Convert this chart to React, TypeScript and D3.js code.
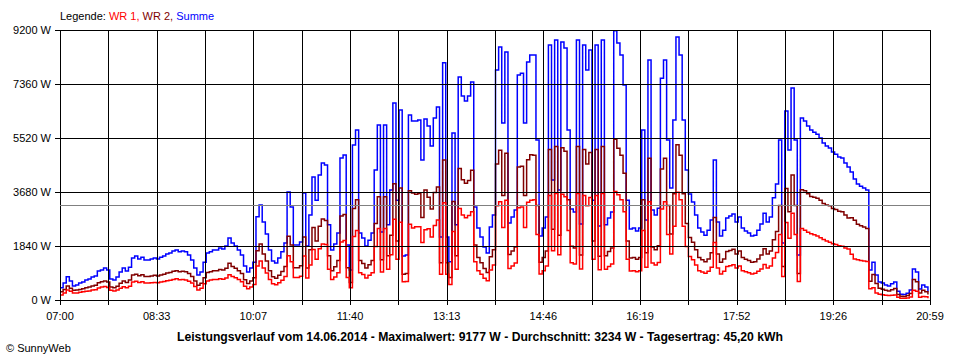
import React from 'react';
import * as d3 from 'd3';

// samples every 3 minutes starting 07:00
const startMinute = 420;
const endMinute = 1259;
const stepMinutes = 3;

const xTickLabels = ["07:00", "08:33", "10:07", "11:40", "13:13", "14:46", "16:19", "17:52", "19:26", "20:59"];
const yTicks = [0, 1840, 3680, 5520, 7360, 9200];
const average = 3234;

const summe = [
  420, 580, 790, 650, 480, 510, 580, 610, 680, 715,
  780, 820, 990, 1020, 1090, 1020, 715, 680, 780, 950,
  1090, 990, 1120, 1430, 1500, 1400, 1460, 1360, 1360, 1400,
  1430, 1400, 1460, 1500, 1570, 1600, 1670, 1700, 1640, 1670,
  1640, 1530, 1360, 1090, 850, 950, 1290, 1600, 1640, 1700,
  1700, 1770, 1740, 1840, 2110, 1940, 1840, 1700, 1530, 1160,
  950, 1090, 1290, 2840, 3240, 2660, 2250, 1700, 1330, 1260,
  1430, 1640, 1940, 3680, 3170, 1870, 1870, 1980, 3650, 1840,
  2900, 4190, 3400, 4260, 4670, 4600, 2560, 1700, 1910, 2280,
  4840, 4940, 1870, 1020, 5280, 5790, 2280, 2110, 1840, 2040,
  2280, 4430, 5960, 2320, 5960, 2560, 3750, 6710, 3400, 6470,
  1500, 1530, 6300, 6100, 6100, 6130, 4770, 6170, 5930, 5250,
  6200, 6580, 2150, 8080, 2150, 1300, 5690, 2560, 7600, 6950,
  6780, 6950, 7430, 3170, 2450, 2150, 1810, 1600, 2490, 2900,
  7840, 8620, 6030, 8450, 2620, 2830, 3070, 7670, 7730, 6030,
  8110, 8350, 8350, 5450, 2180, 2450, 2830, 8690, 4090, 8860,
  3750, 8790, 8590, 5790, 3100, 3000, 8860, 2590, 8690, 7840,
  8520, 3400, 8690, 2520, 8860, 2560, 2790, 3000, 9177, 8760,
  8350, 7330, 3400, 2420, 2450, 2350, 2450, 5790, 2730, 8180,
  3070, 2900, 3130, 7560, 8180, 5450, 3820, 6130, 8960, 8350,
  6130, 4430, 3610, 3340, 2900, 2450, 2320, 2210, 2380, 2730,
  4770, 2660, 2180, 2380, 2790, 2860, 2930, 2660, 2830, 2450,
  2350, 2280, 2180, 2210, 2380, 2590, 2960, 2660, 2830, 3480,
  3950, 5450, 1940, 6440, 5110, 7220, 5450, 1530, 6200, 6100,
  5930, 5790, 5720, 5650, 5520, 5350, 5250, 5180, 5040, 4970,
  4870, 4840, 4670, 4530, 4360, 4120, 3950, 3880, 3820, 3750,
  1020, 1290, 850, 610, 580, 510, 480, 550, 610, 300,
  200, 190, 230, 340, 1060, 950, 375, 510, 440, 280,
];

const wr1 = [
  170, 240, 340, 300, 240, 240, 260, 280, 300, 310,
  340, 350, 410, 440, 460, 430, 330, 310, 340, 400,
  450, 420, 470, 610, 640, 600, 620, 580, 580, 590,
  600, 590, 610, 630, 660, 670, 700, 720, 690, 700,
  680, 640, 580, 460, 340, 400, 550, 650, 680, 700,
  700, 720, 710, 750, 860, 800, 760, 700, 620, 470,
  380, 440, 530, 1160, 1330, 1090, 920, 700, 550, 520,
  590, 670, 800, 1510, 1300, 770, 770, 810, 1500, 750,
  1190, 1720, 1390, 1750, 1910, 1890, 1050, 700, 780, 930,
  1980, 2030, 770, 420, 2160, 2370, 930, 870, 750, 840,
  930, 1820, 2440, 950, 2440, 1050, 1540, 2750, 1390, 2650,
  620, 630, 2580, 2450, 2500, 2500, 1960, 2390, 2430, 2150,
  2540, 2730, 880, 3310, 880, 530, 2330, 1050, 3120, 2900,
  2800, 2880, 3010, 1300, 1000, 880, 740, 660, 1020, 1190,
  3210, 3350, 2470, 3400, 1070, 1160, 1260, 3140, 3170, 2470,
  3330, 3400, 3420, 2230, 890, 1000, 1160, 3560, 1680, 3630,
  1540, 3600, 3520, 2370, 1270, 1230, 3630, 1060, 3560, 3210,
  3490, 1390, 3560, 1030, 3630, 1050, 1140, 1230, 3700, 3590,
  3420, 3010, 1390, 990, 1000, 960, 1000, 2370, 1120, 3350,
  1260, 1190, 1280, 3100, 3350, 2230, 1570, 2510, 3670, 3420,
  2510, 1820, 1480, 1370, 1190, 1000, 950, 910, 980, 1120,
  1960, 1090, 890, 980, 1140, 1170, 1200, 1090, 1160, 1000,
  960, 930, 890, 910, 980, 1060, 1210, 1090, 1160, 1430,
  1620, 2230, 800, 2640, 2100, 2960, 2230, 630, 2440, 2380,
  2310, 2260, 2220, 2180, 2120, 2060, 2010, 1970, 1920, 1890,
  1850, 1830, 1770, 1740, 1560, 1400, 1370, 1350, 1330, 1310,
  380, 420, 240, 200, 180, 160, 150, 160, 170, 90,
  60, 60, 70, 100, 330, 300, 90, 120, 110, 60,
];

const wr2 = [
  280, 360, 480, 400, 330, 340, 360, 380, 420, 440,
  480, 500, 590, 620, 650, 610, 440, 420, 470, 570,
  650, 600, 680, 850, 880, 830, 860, 800, 800, 820,
  840, 820, 850, 880, 920, 940, 980, 1000, 960, 980,
  960, 900, 800, 650, 500, 570, 760, 940, 960, 1000,
  1000, 1040, 1020, 1080, 1250, 1140, 1080, 1000, 900, 690,
  560, 650, 760, 1680, 1910, 1570, 1330, 1000, 790, 740,
  840, 970, 1140, 2170, 1870, 1100, 1100, 1170, 2150, 1090,
  1710, 2470, 2010, 2510, 2760, 2710, 1510, 1000, 1130, 1350,
  2860, 2910, 1100, 600, 3120, 3420, 1350, 1240, 1090, 1200,
  1350, 2610, 3520, 1370, 3520, 1510, 2210, 3960, 2010, 3820,
  880, 900, 3720, 3650, 3600, 3630, 2810, 3750, 3500, 3100,
  3660, 3850, 1270, 4770, 1270, 770, 3360, 1510, 4480, 4100,
  3980, 4070, 4420, 1870, 1450, 1270, 1070, 940, 1470, 1710,
  4630, 5100, 3560, 5000, 1550, 1670, 1810, 4530, 4560, 3560,
  4780, 4950, 4930, 3220, 1290, 1450, 1670, 5130, 2410, 5230,
  2210, 5190, 5070, 3420, 1830, 1770, 5230, 1530, 5130, 4630,
  5030, 2010, 5130, 1490, 5230, 1510, 1650, 1770, 5480, 5170,
  4930, 4320, 2010, 1430, 1450, 1390, 1450, 3420, 1610, 4830,
  1810, 1710, 1850, 4460, 4830, 3220, 2250, 3620, 5290, 4930,
  3620, 2610, 2130, 1970, 1710, 1450, 1370, 1300, 1400, 1610,
  2810, 1570, 1290, 1400, 1650, 1690, 1730, 1570, 1670, 1450,
  1390, 1350, 1290, 1300, 1400, 1530, 1750, 1570, 1670, 2050,
  2330, 3220, 1140, 3800, 3010, 4260, 3220, 900, 3760, 3720,
  3620, 3530, 3500, 3470, 3400, 3290, 3240, 3210, 3120, 3080,
  3020, 3010, 2900, 2790, 2800, 2720, 2580, 2530, 2490, 2440,
  640, 870, 560, 400, 370, 330, 310, 350, 390, 190,
  130, 120, 150, 220, 700, 620, 240, 330, 280, 190,
];

const W = 960;
const H = 360;
const left = 60, right = 930, top = 30, bottom = 300;
const font = "'Liberation Sans', Arial, sans-serif";

const App = () => {
  const x = d3.scaleLinear().domain([startMinute, endMinute]).range([left, right]);
  const y = d3.scaleLinear().domain([0, 9200]).range([bottom, top]);

  // 18 gridline intervals, every second one labelled
  const gridTimes = d3.range(19).map(k => startMinute + k * (endMinute - startMinute) / 18);

  const line = d3.line<number>()
    .x((d, i) => x(startMinute + i * stepMinutes))
    .y(d => y(d))
    .curve(d3.curveStepAfter);

  const series = [
    { values: summe, color: "#0000FF" },
    { values: wr2, color: "#800000" },
    { values: wr1, color: "#FF0000" },
  ];

  return (
    <svg width={W} height={H} style={{ position: 'absolute', left: 0, top: 0, background: '#fff' }}
      fontFamily={font} fontSize={11}>
      <rect x={0} y={0} width={W} height={H} fill="#fff" />

      {series.map((s, i) => (
        <path key={i} d={line(s.values) || ''} fill="none" stroke={s.color} strokeWidth={1.5} />
      ))}

      <g shapeRendering="crispEdges" stroke="#000" strokeWidth={1}>
        {gridTimes.map((t, i) => (
          <line key={'v' + i} x1={Math.round(x(t)) + 0.5} x2={Math.round(x(t)) + 0.5} y1={top} y2={bottom + 5} />
        ))}
        {yTicks.map((v, i) => (
          <line key={'h' + i} x1={left - 5} x2={right} y1={Math.round(y(v)) + 0.5} y2={Math.round(y(v)) + 0.5} />
        ))}
      </g>

      <line x1={left} x2={right} y1={Math.round(y(average)) + 0.5} y2={Math.round(y(average)) + 0.5}
        stroke="#808080" strokeWidth={1} shapeRendering="crispEdges" />

      {yTicks.map((v, i) => (
        <text key={'yl' + i} x={left - 9} y={y(v) + 4} textAnchor="end" fill="#000">{v} W</text>
      ))}
      {xTickLabels.map((lab, i) => (
        <text key={'xl' + i} x={x(gridTimes[i * 2])} y={320} textAnchor="middle" fill="#000">{lab}</text>
      ))}

      <text x={60} y={20} fill="#000">
        Legende: <tspan fill="#FF0000">WR 1,</tspan> <tspan fill="#800000">WR 2,</tspan> <tspan fill="#0000FF">Summe</tspan>
      </text>

      <text x={480} y={341} textAnchor="middle" fontWeight="bold" fontSize={12} textLength={606}
        lengthAdjust="spacingAndGlyphs" fill="#000">
        Leistungsverlauf vom 14.06.2014 - Maximalwert: 9177 W - Durchschnitt: 3234 W - Tagesertrag: 45,20 kWh
      </text>
      <text x={6} y={352} fill="#000">© SunnyWeb</text>
    </svg>
  );
};

export default App;
